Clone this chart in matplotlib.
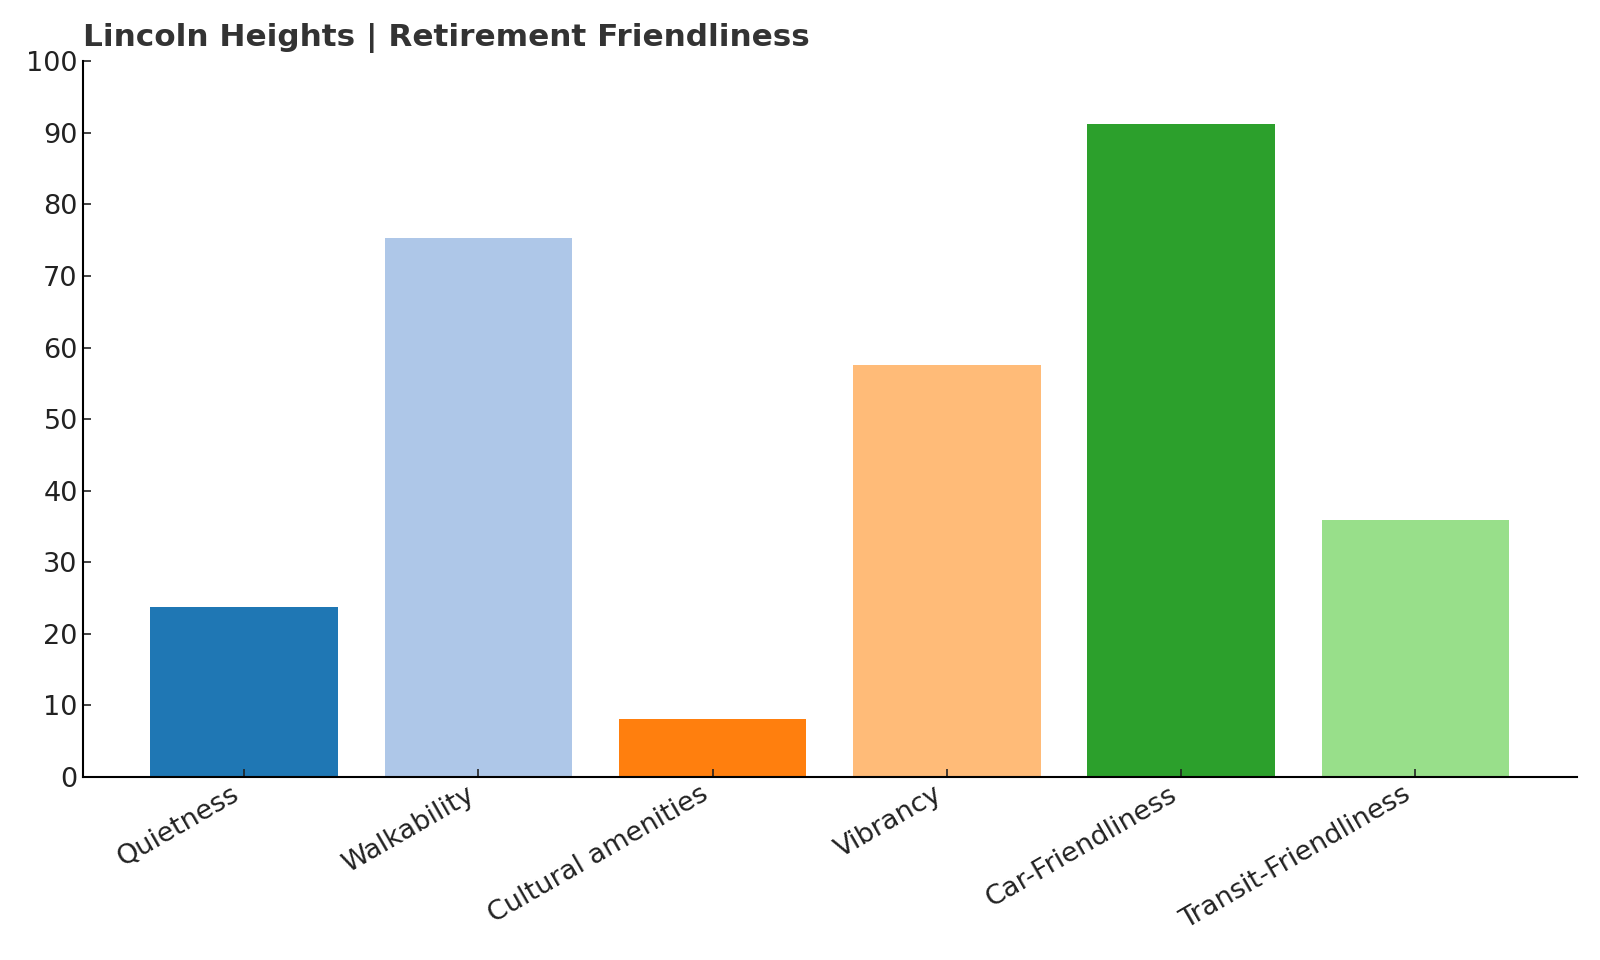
import matplotlib.pyplot as plt

categories = ["Quietness", "Walkability", "Cultural amenities", "Vibrancy",
              "Car-Friendliness", "Transit-Friendliness"]
scores = [23.7, 75.3, 8.1, 57.6, 91.3, 35.9]
colors = ["#1f77b4", "#aec7e8", "#ff7f0e", "#ffbb78", "#2ca02c", "#98df8a"]
y_ticks = list(range(0, 101, 10))

fig = plt.figure(figsize=(16, 9.6), dpi=100)
ax = fig.add_axes([0.0516, 0.191, 0.934, 0.745])

ax.bar(categories, scores, color=colors, width=0.8)

ax.set_ylim(0, 100)
ax.set_yticks(y_ticks)
ax.spines["top"].set_visible(False)
ax.spines["right"].set_visible(False)
ax.spines["left"].set_linewidth(1.5)
ax.spines["bottom"].set_linewidth(1.5)
ax.tick_params(axis="both", direction="in", length=6, width=1.2,
               labelsize=19.5, colors="#222222")
plt.setp(ax.get_xticklabels(), rotation=30, ha="right")

ax.set_title("Lincoln Heights | Retirement Friendliness", loc="left",
             fontsize=22.4, fontweight="bold", color="#333333", pad=11)

fig.savefig("out.png", dpi=100)
